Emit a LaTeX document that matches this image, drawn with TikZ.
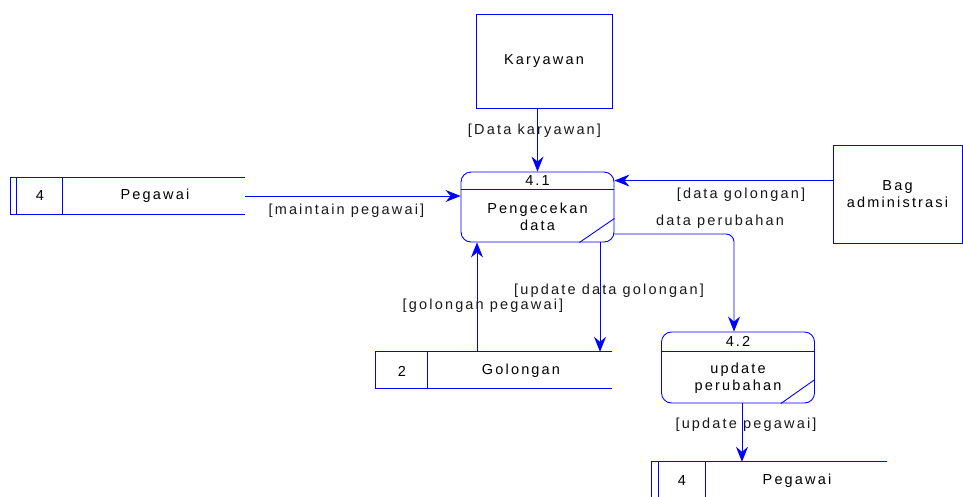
\documentclass[tikz,border=0pt]{standalone}
\usepackage{fontspec}
\newfontfamily\dfdfont{Liberation Sans}[LetterSpace=15]
\usetikzlibrary{arrows.meta}

\begin{document}
\begin{tikzpicture}[
      x=1pt,y=-1pt,
      every node/.style={font=\dfdfont\fontsize{14.5}{17}\selectfont, inner sep=0pt, align=center},
      line/.style={draw=blue, line width=0.9pt},
      flow/.style={line, -{Stealth[length=15pt,width=12pt,inset=5pt]}},
      entity/.style={line, minimum width=136pt, minimum height=94pt},
      process/.style={line, rounded corners=10pt, minimum width=153pt, minimum height=70pt},
      store/.style={minimum height=36pt},
      flowlabel/.style={text=black!90}
      ]
      \useasboundingbox (0,0) rectangle (963,496);

      % external entities
      \node[entity] (karyawan) at (544,61) {Karyawan};
      \node[entity, minimum width=129pt, minimum height=98pt] (bag) at (897.5,194) {Bag\\administrasi};

      % processes
      \node[process] (p41) at (537.5,207) {};
      \node (p41id) at ([yshift=-9pt]p41.north) {4.1};
      \node (p41txt) at ([yshift=26pt]p41.south) {Pengecekan\\data};
      \draw[line] ([yshift=-18pt]p41.north west) -- ([yshift=-18pt]p41.north east);
      \draw[line] ([xshift=-35pt]p41.south east) -- ([yshift=24pt]p41.south east);

      \node[process, minimum height=71pt] (p42) at (738,367.5) {};
      \node (p42id) at ([yshift=-10pt]p42.north) {4.2};
      \node (p42txt) at ([yshift=25.5pt]p42.south) {update\\perubahan};
      \draw[line] ([yshift=-20pt]p42.north west) -- ([yshift=-20pt]p42.north east);
      \draw[line] ([xshift=-34pt]p42.south east) -- ([yshift=24pt]p42.south east);

      % data stores
      \node[store, minimum width=234pt] (pegawaiA) at (128,196) {};
      \node (pegawaiAid) at (40,196) {4};
      \node (pegawaiAname) at (155,196) {Pegawai};
      \draw[line] (pegawaiA.north east) -- (pegawaiA.north west) -- (pegawaiA.south west) -- (pegawaiA.south east);
      \draw[line] ([xshift=6pt]pegawaiA.north west) -- ([xshift=6pt]pegawaiA.south west);
      \draw[line] ([xshift=52pt]pegawaiA.north west) -- ([xshift=52pt]pegawaiA.south west);

      \node[store, minimum width=236pt] (golongan) at (494,370) {};
      \node (golonganid) at (402,371) {2};
      \node (golonganname) at (521,371) {Golongan};
      \draw[line] (golongan.north east) -- (golongan.north west) -- (golongan.south west) -- (golongan.south east);
      \draw[line] ([xshift=52pt]golongan.north west) -- ([xshift=52pt]golongan.south west);

      \node[store, minimum width=235pt] (pegawaiB) at (769.5,480) {};
      \node (pegawaiBid) at (682,481) {4};
      \node (pegawaiBname) at (797,481) {Pegawai};
      \draw[line] (pegawaiB.north east) -- (pegawaiB.north west) -- (pegawaiB.south west) -- (pegawaiB.south east);
      \draw[line] ([xshift=7pt]pegawaiB.north west) -- ([xshift=7pt]pegawaiB.south west);
      \draw[line] ([xshift=54pt]pegawaiB.north west) -- ([xshift=54pt]pegawaiB.south west);

      %flows into 4.1
      \path[flow] (p41.north |- karyawan.south) -- node[flowlabel, pos=0.35, xshift=-3pt] {[Data karyawan]} (p41.north);
      \path[flow] (pegawaiA.east) -- node[flowlabel, pos=0.47, yshift=-15pt] {[maintain pegawai]} (pegawaiA.east -| p41.west);
      \path[flow] (bag.west |- p41id) -- node[flowlabel, pos=0.42, yshift=-14pt] {[data golongan]} (p41.east |- p41id);
      \coordinate (gpin) at ([xshift=-60.5pt]p41.south);
      \path[flow] (golongan.north -| gpin) -- node[flowlabel, pos=0.42, xshift=6pt] {[golongan pegawai]} (gpin);

      %flows out of 4.1
      \coordinate (gpout) at ([xshift=62.5pt]p41.south);
      \path[flow] (gpout) -- node[flowlabel, pos=0.44, xshift=9pt] {[update data golongan]} (golongan.north -| gpout);
      \coordinate (perubahan) at ([yshift=-27pt]p41.east);
      \coordinate (p42in) at ([xshift=-4pt]p42.north);
      \path[flow, rounded corners=8pt] (perubahan) -| (p42in);
      \node[flowlabel] (perubahanlabel) at (720,222) {data perubahan};

      %flow out of 4.2
      \coordinate (p42out) at ([xshift=4pt]p42.south);
      \path[flow] (p42out) -- node[flowlabel, pos=0.36, xshift=4pt] {[update pegawai]} (pegawaiB.north -| p42out);
    \end{tikzpicture}
\end{document}
